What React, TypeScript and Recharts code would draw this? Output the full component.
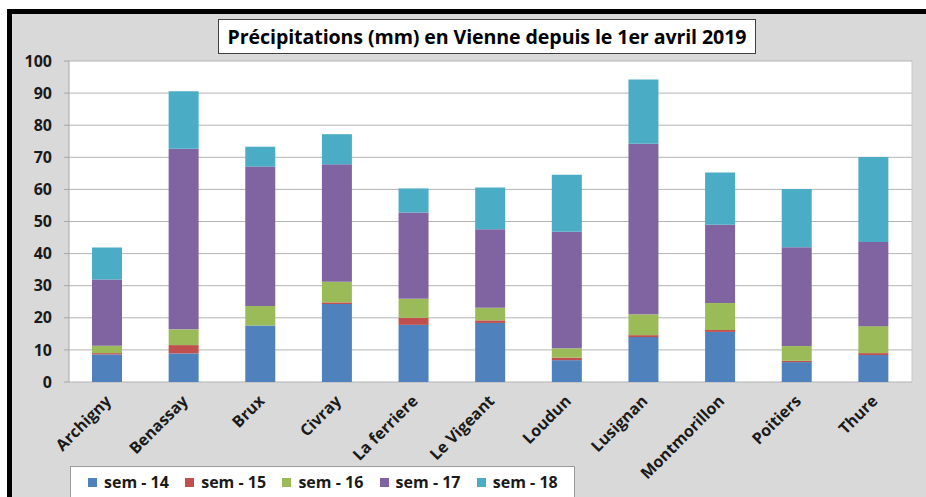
import React from "react";
import { BarChart, Bar, XAxis, YAxis, CartesianGrid, Legend } from "recharts";

const stations = [
  "Archigny",
  "Benassay",
  "Brux",
  "Civray",
  "La ferriere",
  "Le Vigeant",
  "Loudun",
  "Lusignan",
  "Montmorillon",
  "Poitiers",
  "Thure",
];

// précipitations hebdomadaires (mm)
const sem14 = [8.6, 8.9, 17.6, 24.3, 17.8, 18.4, 6.8, 14.0, 15.6, 6.2, 8.4];
const sem15 = [0.4, 2.6, 0, 0.5, 2.2, 0.8, 0.8, 0.6, 0.6, 0.4, 0.6];
const sem16 = [2.3, 4.9, 6.1, 6.4, 5.9, 3.9, 2.9, 6.5, 8.4, 4.6, 8.4];
const sem17 = [20.6, 56.3, 43.4, 36.6, 26.9, 24.5, 36.3, 53.1, 24.4, 30.8, 26.2];
const sem18 = [10.0, 17.9, 6.2, 9.4, 7.5, 13.0, 17.8, 20.0, 16.3, 18.1, 26.5];

const yTicks = [0, 10, 20, 30, 40, 50, 60, 70, 80, 90, 100];
const boundaryTicks = [0, 1, 2, 3, 4, 5, 6, 7, 8, 9, 10, 11];

const series = [
  { key: "s14", name: "sem - 14", color: "#4f81bd" },
  { key: "s15", name: "sem - 15", color: "#c0504d" },
  { key: "s16", name: "sem - 16", color: "#9bbb59" },
  { key: "s17", name: "sem - 17", color: "#8064a2" },
  { key: "s18", name: "sem - 18", color: "#4bacc6" },
];

const data = stations.map((name, i) => ({
  name,
  s14: sem14[i],
  s15: sem15[i],
  s16: sem16[i],
  s17: sem17[i],
  s18: sem18[i],
}));

const FONT = "'Open Sans', sans-serif";

const StationTick = (props: any) => {
  const { x, y, payload } = props;
  const ax = x + 5;
  const ay = y + 12;
  return (
    <text
      x={ax}
      y={ay}
      transform={`rotate(-45, ${ax}, ${ay})`}
      textAnchor="end"
      fontSize={16}
      fontWeight={700}
      fill="#1a1a1a"
      fontFamily={FONT}
    >
      {payload.value}
    </text>
  );
};

const LegendBox = (props: any) => {
  const { payload } = props;
  return (
    <div
      style={{
        boxSizing: "border-box",
        width: "100%",
        height: "100%",
        background: "#fff",
        border: "1px solid #9a9a9a",
        display: "flex",
        alignItems: "center",
        paddingLeft: 17,
        fontFamily: FONT,
        fontSize: 16,
        fontWeight: 700,
        color: "#1a1a1a",
      }}
    >
      {(payload || []).map((p: any) => (
        <div
          key={p.value}
          style={{ display: "flex", alignItems: "center", width: 98.5 }}
        >
          <span
            style={{
              display: "inline-block",
              width: 9,
              height: 9,
              background: p.color,
              marginRight: 7,
            }}
          />
          <span>{p.value}</span>
        </div>
      ))}
    </div>
  );
};

export default function App() {
  return (
    <div
      style={{
        position: "absolute",
        left: 0,
        top: 0,
        width: 926,
        height: 497,
        overflow: "hidden",
        background: "#fff",
        fontFamily: FONT,
      }}
    >
      <div
        style={{
          position: "absolute",
          left: 7,
          top: 9,
          right: 0,
          bottom: 0,
          background: "#d9d9d9",
          borderLeft: "5px solid #000",
          borderTop: "5px solid #000",
        }}
      />
      <div style={{ position: "absolute", left: 0, top: 0 }}>
        <BarChart
          width={926}
          height={497}
          data={data}
          margin={{ top: 61, right: 0, bottom: 0, left: 0 }}
        >
          <CartesianGrid
            vertical={false}
            stroke="#b4b4b4"
            fill="#ffffff"
            xAxisId={0}
          />
          <XAxis
            xAxisId={0}
            type="number"
            domain={[0, 11]}
            allowDataOverflow
            ticks={boundaryTicks}
            height={0}
            tickSize={5}
            tickFormatter={() => ""}
            stroke="#a6a6a6"
          />
          <XAxis
            xAxisId="cat"
            dataKey="name"
            height={115}
            interval={0}
            axisLine={false}
            tickLine={false}
            tick={<StationTick />}
          />
          <YAxis
            domain={[0, 100]}
            ticks={yTicks}
            width={69}
            tickSize={5}
            tickMargin={12}
            stroke="#a6a6a6"
            tick={{
              fontSize: 16,
              fontWeight: 700,
              fill: "#1a1a1a",
              fontFamily: FONT,
            }}
          />
          <YAxis
            yAxisId="r"
            orientation="right"
            width={14}
            tick={false}
            tickLine={false}
            stroke="#c8c8c8"
          />
          <Legend
            layout="horizontal"
            verticalAlign="middle"
            align="center"
            content={<LegendBox />}
            wrapperStyle={{ left: 70, top: 466, width: 505, height: 32 }}
          />
          {series.map((s) => (
            <Bar
              key={s.key}
              xAxisId="cat"
              dataKey={s.key}
              name={s.name}
              stackId="a"
              fill={s.color}
              barSize={30}
              isAnimationActive={false}
            />
          ))}
        </BarChart>
      </div>
      <div
        style={{
          position: "absolute",
          left: 218,
          top: 19,
          width: 538,
          height: 35,
          boxSizing: "border-box",
          background: "#fff",
          border: "1px solid #404040",
          textAlign: "center",
          lineHeight: "33px",
          fontSize: 19.6,
          fontWeight: 700,
          letterSpacing: -0.1,
          color: "#000",
          whiteSpace: "nowrap",
        }}
      >
        Précipitations (mm) en Vienne depuis le 1er avril 2019
      </div>
    </div>
  );
}
